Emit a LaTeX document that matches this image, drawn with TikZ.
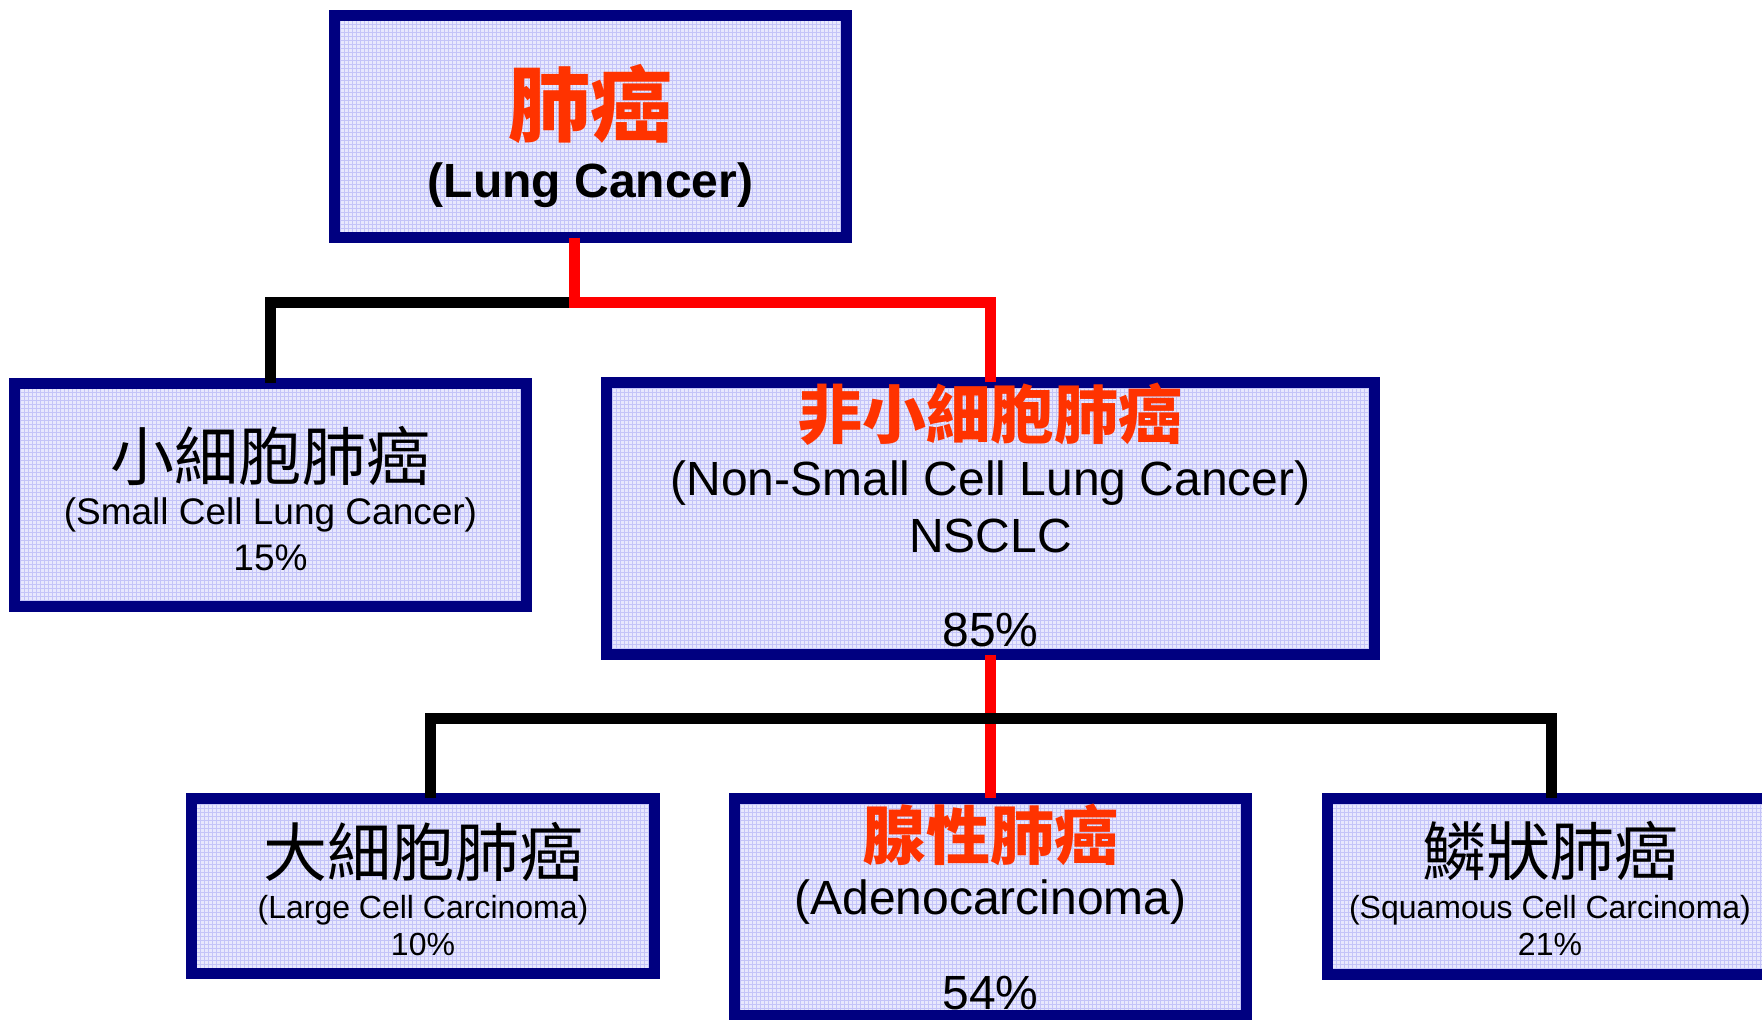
\documentclass[tikz,border=0pt]{standalone}
\usepackage{fontspec}
\setmainfont{Liberation Sans}
\newfontfamily\cjk{Noto Sans CJK TC}
\usetikzlibrary{patterns}
\definecolor{navy}{RGB}{0,0,128}
\definecolor{boxfill}{RGB}{232,232,253}
\definecolor{gridc}{RGB}{196,196,248}
\definecolor{titlered}{RGB}{255,51,0}
\definecolor{linered}{RGB}{255,0,0}
\newcommand\drawbox[5]{%
  \node[boxnode, minimum width={(#4-#2-10.7)*0.75pt}, minimum height={(#5-#3-10.7)*0.75pt}]
    (#1) at ({(#2+#4)/2},{(#3+#5)/2}) {};}
\tikzset{
  boxnode/.style={rectangle, draw=navy, line width=8pt, inner sep=0pt, outer sep=0pt,
    preaction={fill=boxfill}, pattern=grid, pattern color=gridc},
  txt/.style={anchor=base, inner sep=0pt},
  cjkred/.style={txt, text=titlered, font=\cjk\bfseries\fontsize{#1}{#1}\selectfont},
  cjkblack/.style={txt, text=black, font=\cjk\fontsize{#1}{#1}\selectfont},
  lat/.style={txt, text=black, font=\fontsize{#1}{#1}\selectfont},
  latb/.style={txt, text=black, font=\bfseries\fontsize{#1}{#1}\selectfont},
  blackline/.style={draw=black, line width=8pt, line join=miter},
  redline/.style={draw=linered, line width=8pt, line join=miter}
}
\begin{document}
\begin{tikzpicture}[x=0.75pt,y=-0.75pt]
\useasboundingbox (0,0) rectangle (1762,1020);
% boxes
\drawbox{top}{329}{10}{852}{243}
\drawbox{small}{9}{378}{532}{612}
\drawbox{nsclc}{601}{377}{1380}{660}
\drawbox{large}{186}{793}{660}{979}
\drawbox{adeno}{729}{793}{1252}{1021}
\drawbox{squam}{1322}{793}{1778}{980}
% junctions
\coordinate (j1) at (574.5,302.5);
\coordinate (j2l) at (430.5,718.5);
\coordinate (j2r) at (1551.5,718.5);
% upper connectors
\draw[blackline] (j1) -| (small.north);
\draw[redline] (j1 |- top.south) -- (j1) -| (nsclc.north);
% lower connectors
\draw[redline] (nsclc.south) -- (adeno.north);
\draw[blackline] (j2l |- large.north) -- (j2l) -- (j2r) -- (j2r |- squam.north);
% texts
\node[cjkred=61.5] (t1) at (590.5,136) {肺癌};
\node[latb=36] (t2) at (590.5,197) {(Lung Cancer)};
\node[cjkblack=48] (s1) at (270.5,480) {小細胞肺癌};
\node[lat=27.75] (s2) at (270.5,524) {(Small Cell Lung Cancer)};
\node[lat=27.75] (s3) at (270.5,570) {15\%};
\node[cjkred=48] (n1) at (990.5,438) {非小細胞肺癌};
\node[lat=36] (n2) at (990.5,495) {(Non-Small Cell Lung Cancer)};
\node[lat=36] (n3) at (990.5,552) {NSCLC};
\node[lat=36] (n4) at (990.5,646) {85\%};
\node[cjkblack=48] (l1) at (423,876) {大細胞肺癌};
\node[lat=24] (l2) at (423,918) {(Large Cell Carcinoma)};
\node[lat=24] (l3) at (423,955) {10\%};
\node[cjkred=48] (a1) at (990.5,859) {腺性肺癌};
\node[lat=36] (a2) at (990.5,914) {(Adenocarcinoma)};
\node[lat=36] (a3) at (990.5,1009) {54\%};
\node[cjkblack=48] (q1) at (1550,875) {鱗狀肺癌};
\node[lat=24] (q2) at (1550,918) {(Squamous Cell Carcinoma)};
\node[lat=24] (q3) at (1550,955) {21\%};
\end{tikzpicture}
\end{document}
